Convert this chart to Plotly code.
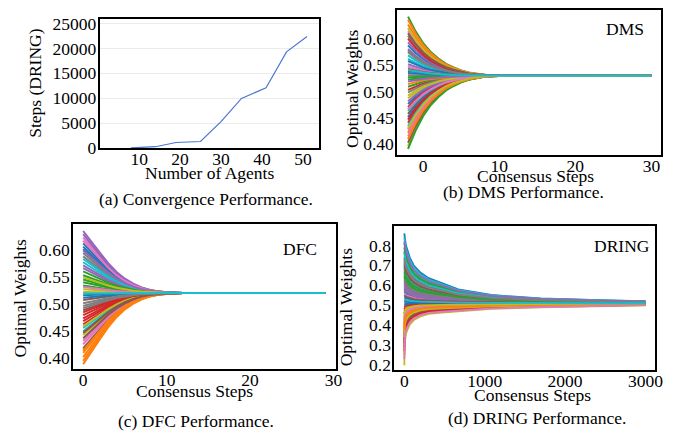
import plotly.graph_objects as go

# ---------------- data ----------------
# (a) convergence performance
agents = [8, 14, 19, 25, 30, 35, 41, 46, 51]
steps_dring = [0, 250, 1100, 1300, 5300, 9950, 12100, 19300, 22400]

# (b) DMS: initial agent weights, consensus value, envelope (fraction of initial deviation remaining)
dms_init = [0.588, 0.421, 0.643, 0.503, 0.552, 0.457, 0.615, 0.531, 0.396, 0.569,
            0.476, 0.628, 0.509, 0.440, 0.594, 0.539, 0.415, 0.606, 0.487, 0.562,
            0.451, 0.637, 0.523, 0.470, 0.581, 0.402, 0.547, 0.498, 0.621, 0.434,
            0.558, 0.514, 0.390, 0.601, 0.481, 0.543, 0.427, 0.575, 0.492, 0.463,
            0.535, 0.409, 0.527, 0.446, 0.519, 0.611, 0.466, 0.578, 0.430, 0.541]
dms_final = 0.530
dms_steps = [-2, -1, 0, 1, 2, 3, 4, 5, 6, 7, 8, 9, 10, 30]
dms_env = [1.0, 0.75, 0.55, 0.40, 0.29, 0.20, 0.14, 0.09, 0.055, 0.03, 0.015, 0.007, 0.003, 0.0]

# (c) DFC
dfc_init = [0.612, 0.401, 0.545, 0.468, 0.635, 0.507, 0.431, 0.588, 0.522, 0.455,
            0.601, 0.388, 0.534, 0.479, 0.566, 0.417, 0.623, 0.496, 0.442, 0.577,
            0.511, 0.394, 0.553, 0.462, 0.629, 0.488, 0.425, 0.594, 0.527, 0.449,
            0.606, 0.409, 0.540, 0.473, 0.571, 0.436, 0.617, 0.501, 0.458, 0.583,
            0.516, 0.413, 0.560, 0.484, 0.599, 0.446, 0.531, 0.492, 0.549, 0.519]
dfc_final = 0.520
dfc_steps = [0, 1, 2, 3, 4, 5, 6, 7, 8, 9, 10, 11, 12, 29]
dfc_env = [1.0, 0.82, 0.65, 0.48, 0.34, 0.23, 0.15, 0.09, 0.05, 0.025, 0.01, 0.004, 0.0015, 0.0]

# (d) DRING
dring_init = [0.86, 0.47, 0.62, 0.35, 0.55, 0.71, 0.43, 0.58, 0.20, 0.66,
              0.51, 0.39, 0.77, 0.49, 0.60, 0.29, 0.53, 0.68, 0.45, 0.81,
              0.57, 0.41, 0.64, 0.33, 0.52, 0.74, 0.48, 0.59, 0.25, 0.69,
              0.54, 0.37, 0.79, 0.46, 0.61, 0.31, 0.56, 0.72, 0.44, 0.84,
              0.50, 0.40, 0.65, 0.27, 0.58, 0.70, 0.42, 0.63, 0.34, 0.76,
              0.52, 0.38, 0.67, 0.48, 0.82, 0.55, 0.23, 0.73, 0.46, 0.53]
dring_center = 0.51
dring_steps = [0, 8, 20, 37, 70, 119, 200, 303, 467, 672, 1082, 1697, 2518, 3000]
dring_env_up = [1.0, 0.9, 0.83, 0.77, 0.65, 0.54, 0.44, 0.36, 0.29, 0.2, 0.12, 0.07, 0.043, 0.03]
dring_env_dn = [1.0, 0.62, 0.5, 0.43, 0.34, 0.27, 0.21, 0.17, 0.15, 0.13, 0.09, 0.065, 0.045, 0.033]

panel_labels = ["DMS", "DFC", "DRING"]
captions = ["(a) Convergence Performance.", "(b) DMS Performance.",
            "(c) DFC Performance.", "(d) DRING Performance."]

palette = ['#1f77b4', '#ff7f0e', '#2ca02c', '#d62728', '#9467bd',
           '#8c564b', '#e377c2', '#7f7f7f', '#bcbd22', '#17becf']

# ---------------- figure ----------------
W, H = 694, 440
FONT = "Liberation Serif"
FS = 17.5

def px2x(p):
    return p / W

def px2y(p):
    return 1 - p / H

fig = go.Figure()

fig.add_trace(go.Scatter(x=agents, y=steps_dring, mode="lines",
                         line=dict(color="#4a76d4", width=1.2),
                         xaxis="x", yaxis="y", showlegend=False))

for i, v0 in enumerate(dms_init):
    ys = [dms_final + (v0 - dms_final) * e for e in dms_env]
    fig.add_trace(go.Scatter(x=dms_steps, y=ys, mode="lines",
                             line=dict(color=palette[i % 10], width=2.0),
                             xaxis="x2", yaxis="y2", showlegend=False))

for i, v0 in enumerate(dfc_init):
    ys = [dfc_final + (v0 - dfc_final) * e for e in dfc_env]
    fig.add_trace(go.Scatter(x=dfc_steps, y=ys, mode="lines",
                             line=dict(color=palette[i % 10], width=2.0),
                             xaxis="x3", yaxis="y3", showlegend=False))

for i, v0 in enumerate(dring_init):
    env = dring_env_up if v0 >= dring_center else dring_env_dn
    ys = [dring_center + (v0 - dring_center) * e for e in env]
    fig.add_trace(go.Scatter(x=dring_steps, y=ys, mode="lines",
                             line=dict(color=palette[i % 10], width=1.8),
                             xaxis="x4", yaxis="y4", showlegend=False))

tf = dict(family=FONT, size=FS, color="black")
box = dict(showline=True, mirror=True, linecolor="black", linewidth=2,
           zeroline=False, ticks="", tickfont=tf)
xbox = dict(box, ticklabelstandoff=-6)
ybox = dict(box, ticklabelstandoff=-2)

# panel domains (pixel boxes)
dom = {
    "a": (101, 323, 14, 148),
    "b": (402, 669, 5, 155),
    "c": (74, 340, 227, 377),
    "d": (399, 663, 229, 378),
}

def xd(k):
    l, r, t, b = dom[k]
    return [px2x(l), px2x(r)]

def yd(k):
    l, r, t, b = dom[k]
    return [px2y(b), px2y(t)]

fig.update_layout(
    width=W, height=H, margin=dict(l=0, r=0, t=0, b=0),
    paper_bgcolor="white", plot_bgcolor="white", showlegend=False,
    font=dict(family=FONT, size=FS, color="black"),
    xaxis=dict(domain=xd("a"), anchor="y", range=[0.4, 54], tickvals=[10, 20, 30, 40, 50],
               showgrid=False, **xbox),
    yaxis=dict(domain=yd("a"), anchor="x", range=[0, 26000],
               tickvals=[0, 5000, 10000, 15000, 20000, 25000], tickformat="d",
               showgrid=True, gridcolor="#ebebeb", gridwidth=1, **ybox),
    xaxis2=dict(domain=xd("b"), anchor="y2", range=[-3.4, 31.3], tickvals=[0, 10, 20, 30],
                showgrid=False, **xbox),
    yaxis2=dict(domain=yd("b"), anchor="x2", range=[0.379, 0.656],
                tickvals=[0.40, 0.45, 0.50, 0.55, 0.60], tickformat=".2f",
                showgrid=False, **ybox),
    xaxis3=dict(domain=xd("c"), anchor="y3", range=[-1.2, 30.3], tickvals=[0, 10, 20, 30],
                showgrid=False, **xbox),
    yaxis3=dict(domain=yd("c"), anchor="x3", range=[0.3787, 0.6475],
                tickvals=[0.40, 0.45, 0.50, 0.55, 0.60], tickformat=".2f",
                showgrid=False, **ybox),
    xaxis4=dict(domain=xd("d"), anchor="y4", range=[-123, 3124],
                tickvals=[0, 1000, 2000, 3000], tickformat="d", showgrid=False, **xbox),
    yaxis4=dict(domain=yd("d"), anchor="x4", range=[0.176, 0.896],
                tickvals=[0.2, 0.3, 0.4, 0.5, 0.6, 0.7, 0.8], tickformat=".1f",
                showgrid=False, **ybox),
)

def ann(text, x, y, angle=0, size=FS):
    fig.add_annotation(text=text, x=px2x(x), y=px2y(y), xref="paper", yref="paper",
                       showarrow=False, textangle=angle, xanchor="center", yanchor="middle",
                       font=dict(family=FONT, size=size, color="black"))

# axis titles
ann("Steps (DRING)", 36, 81, -90)
ann("Number of Agents", 212, 174)
ann("Optimal Weights", 356, 86, -90)
ann("Consensus Steps", 542, 177)
ann("Optimal Weights", 20, 303, -90)
ann("Consensus Steps", 197, 400)
ann("Optimal Weights", 350, 312, -90)
ann("Consensus Steps", 539, 404)

# panel labels
ann(panel_labels[0], 632, 25)
ann(panel_labels[1], 304, 253)
ann(panel_labels[2], 629, 249)

# captions
ann(captions[0], 208, 201)
ann(captions[1], 530, 194)
ann(captions[2], 198, 431)
ann(captions[3], 543, 428)

fig.write_html("out.html")
